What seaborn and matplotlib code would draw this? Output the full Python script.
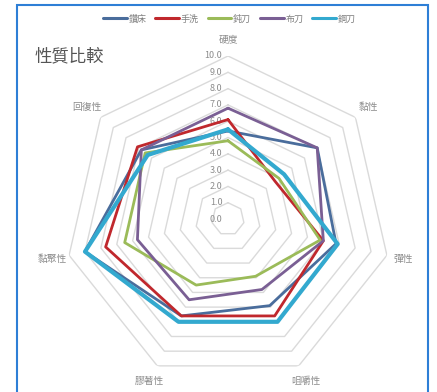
import numpy as np
import pandas as pd
import matplotlib
matplotlib.use("Agg")
import matplotlib.pyplot as plt
import seaborn as sns
from matplotlib.patches import Rectangle

categories = ["硬度", "黏性", "彈性", "咀嚼性", "膠著性", "黏聚性", "回復性"]
series_names = ["鑽床", "手洗", "鈍刀", "布刀", "鋼刀"]
drill = [5.4, 7.0, 6.8, 5.9, 6.6, 9.0, 6.8]
handwash = [6.1, 3.7, 6.0, 6.6, 6.6, 7.7, 7.1]
blunt = [4.8, 4.0, 5.8, 3.9, 4.5, 6.5, 6.5]
cloth = [6.8, 7.0, 6.0, 4.8, 5.5, 5.7, 6.8]
steel = [5.5, 4.4, 6.9, 7.0, 7.0, 9.0, 6.3]
tick_values = [0, 1, 2, 3, 4, 5, 6, 7, 8, 9, 10]
title = "性質比較"

colors = ["#4a6d9c", "#c0282d", "#9bbb59", "#7a5f94", "#33a9cf"]
widths = [2.0, 2.0, 2.0, 2.0, 3.0]

sns.set_theme(style="white")
plt.rcParams['font.family'] = ['Noto Sans CJK TC', 'DejaVu Sans']

n = len(categories)
angles = [2 * np.pi * i / n for i in range(n + 1)]  # last = closing angle (2*pi)

rows = []
for name, vals in zip(series_names, [drill, handwash, blunt, cloth, steel]):
    for k in range(n + 1):
        rows.append({"series": name, "theta": angles[k], "value": vals[k % n]})
df = pd.DataFrame(rows)

W, H = 437, 392
fig = plt.figure(figsize=(W / 100, H / 100), dpi=100)
fig.patch.set_facecolor("white")

cx, cy, R = 228, 219, 163
ax = fig.add_axes([(cx - R) / W, (H - cy - R) / H, 2 * R / W, 2 * R / H], projection="polar")
ax.set_theta_zero_location("N")
ax.set_theta_direction(-1)
ax.grid(False)
ax.spines["polar"].set_visible(False)
ax.patch.set_alpha(0)

# polygon grid rings
for t in tick_values[1:]:
    ax.plot(angles, [t] * (n + 1), color="#dadada", lw=1.0, zorder=1)

# radial tick labels
for t in tick_values:
    ax.annotate(f"{t:.1f}", xy=(0, t), xytext=(-4, 0), textcoords="offset points",
                ha="right", va="center", fontsize=6.5, color="#8c8c8c")

# category labels
for a, c in zip(angles[:n], categories):
    ax.text(a, 11.05, c, ha="center", va="center", fontsize=7, color="#8c8c8c")

palette = dict(zip(series_names, colors))
for name, lw in zip(series_names, widths):
    sub = df[df["series"] == name]
    sns.lineplot(data=sub, x="theta", y="value", sort=False, estimator=None, ax=ax,
                 color=palette[name], lw=lw, legend=False, zorder=3)
ax.set_xlabel("")
ax.set_ylabel("")
ax.set_xticks([])
ax.set_yticks([])
ax.set_ylim(0, 10)

handles = [plt.Line2D([0], [0], color=c, lw=2.2) for c in colors]
fig.legend(handles, series_names, loc="center", bbox_to_anchor=(0.525, 1 - 19 / H), ncol=5,
           frameon=False, fontsize=6.5, handlelength=2.6, columnspacing=1.0, handletextpad=0.2,
           labelcolor="#7f7f7f")

fig.text(35 / W, 1 - 56 / H, title, fontsize=12.5, color="#555555", ha="left", va="center")

fig.add_artist(Rectangle((17 / W, -0.02), (428 - 17) / W, 1 - 5 / H + 0.02, transform=fig.transFigure,
                         fill=False, edgecolor="#2e7fd6", lw=1.5))

fig.savefig("out.png", dpi=100)
